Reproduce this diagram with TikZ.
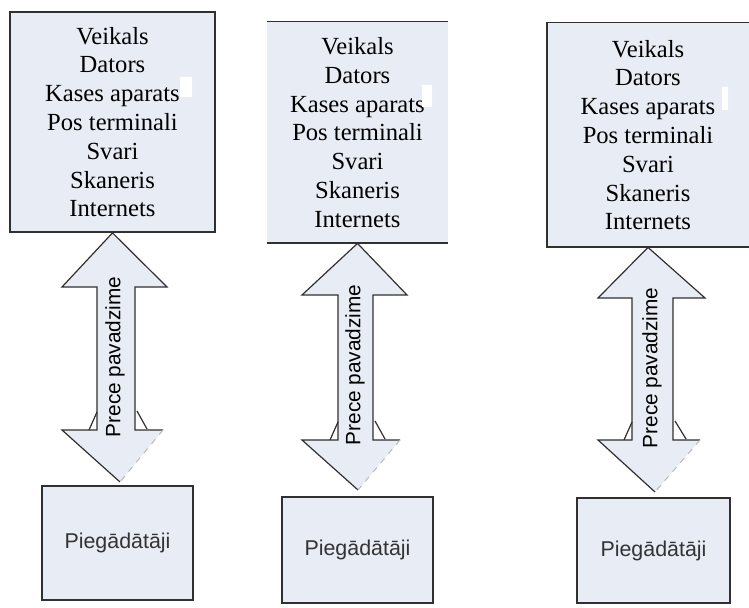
\documentclass[tikz,border=0pt]{standalone}
\usepackage{fontspec}
\setmainfont{Liberation Serif}
\setsansfont{Liberation Sans}
\definecolor{boxfill}{HTML}{E8ECF5}
\definecolor{edge}{HTML}{303030}

\begin{document}
\begin{tikzpicture}[x=0.5pt, y=-0.5pt,
  shop/.style={fill=boxfill, inner sep=0pt, align=center,
    font=\fontsize{12.3}{14.4}\selectfont},
  supplier/.style={draw=edge, line width=0.8pt, fill=boxfill,
    minimum width=75.5pt, font=\sffamily\fontsize{10.7}{12}\selectfont, text=black!80},
  flow/.style={draw=edge, line width=0.6pt},
  faint/.style={draw=gray!55, dashed, line width=0.5pt},
  arrowtext/.style={rotate=90, inner sep=0pt, font=\sffamily\fontsize{10.4}{12}\selectfont}]
\useasboundingbox (0,0) rectangle (749,608);

\node[shop, draw=edge, line width=0.9pt, minimum width=102.5pt, minimum height=110pt]
  (shop1) at (112.5,122) {Veikals\\Dators\\Kases aparats\\Pos terminali\\Svari\\Skaneris\\Internets};
\node[shop, minimum width=90.5pt, minimum height=110.5pt]
  (shop2) at (357.5,132.5) {Veikals\\Dators\\Kases aparats\\Pos terminali\\Svari\\Skaneris\\Internets};
\node[shop, minimum width=101pt, minimum height=112pt]
  (shop3) at (648,135) {Veikals\\Dators\\Kases aparats\\Pos terminali\\Svari\\Skaneris\\Internets};
\draw[flow, line width=0.9pt] (shop2.north west) -- (shop2.north east) (shop2.south west) -- (shop2.south east);
\draw[flow, line width=0.9pt] (shop3.north east) -- (shop3.north west) -- (shop3.south west) -- (shop3.south east);
\fill[white] (180,77) rectangle (192,97) (422,85) rectangle (432,107) (722,87) rectangle (728,110);

\node[supplier, minimum height=57pt] (sup1) at (117.5,543) {Piegādātāji};
\node[supplier, minimum height=53pt] (sup2) at (357.5,550) {Piegādātāji};
\node[supplier, minimum width=76.5pt, minimum height=52.5pt] (sup3) at (653.5,550.5) {Piegādātāji};

% Prece pavadzime, first column
\fill[boxfill] (shop1.south) -- (167,287) -- (135,287) -- (135,430) -- (163,430) -- (120,482)
  -- (62,430) -- (97,430) -- (97,287) -- (62,287) -- cycle;
\draw[flow] (163,430) -- (135,430) -- (135,287) -- (167,287) -- (shop1.south) -- (62,287)
  -- (97,287) -- (97,430) -- (62,430) -- (120,482);
\draw[flow] (97,412) -- (89,430) (137,411) -- (147,429);
\draw[faint] (163,430) -- (120,482);
\node[arrowtext] (pp1) at (115,357) {Prece pavadzime};

% second column
\fill[boxfill] (shop2.south) -- (407,295) -- (373,295) -- (373,440) -- (400,440) -- (358,490)
  -- (302,440) -- (338,440) -- (338,295) -- (302,295) -- cycle;
\draw[flow] (400,440) -- (373,440) -- (373,295) -- (407,295) -- (shop2.south) -- (302,295)
  -- (338,295) -- (338,440) -- (302,440) -- (358,490);
\draw[flow] (338,422) -- (330,440) (375,421) -- (385,439);
\draw[faint] (400,440) -- (358,490);
\node[arrowtext] (pp2) at (355,365) {Prece pavadzime};

% third column
\fill[boxfill] (shop3.south) -- (705,298) -- (673,298) -- (673,440) -- (700,440) -- (655,492)
  -- (598,440) -- (632,440) -- (632,298) -- (598,298) -- cycle;
\draw[flow] (700,440) -- (673,440) -- (673,298) -- (705,298) -- (shop3.south) -- (598,298)
  -- (632,298) -- (632,440) -- (598,440) -- (655,492);
\draw[flow] (632,422) -- (624,440) (675,421) -- (686,439);
\draw[faint] (700,440) -- (655,492);
\node[arrowtext] (pp3) at (652,368) {Prece pavadzime};
\end{tikzpicture}
\end{document}
